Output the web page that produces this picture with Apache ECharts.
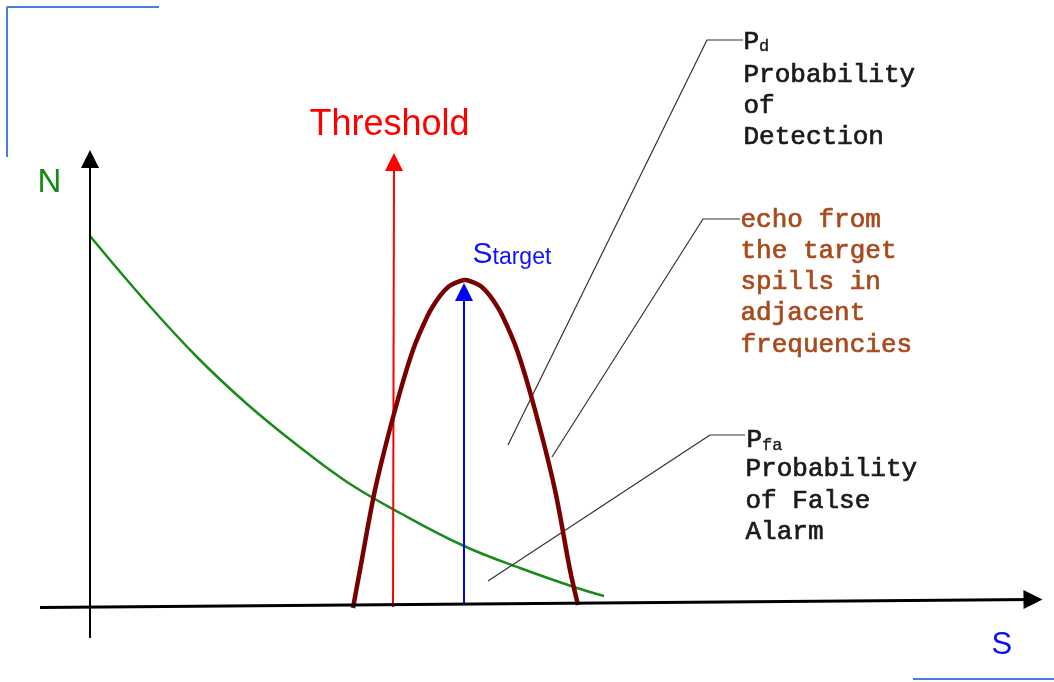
<!DOCTYPE html>
<html>
<head>
<meta charset="utf-8">
<script src="https://cdn.jsdelivr.net/npm/echarts@6.0.0/dist/echarts.min.js"></script>
<style>
    html, body { margin: 0; padding: 0; background: #fff; }
    #main { width: 1054px; height: 682px; }
</style>
</head>
<body>
<div id="main"></div>
<script>
// 坐标系: x = S, y = N, 原点在两条轴的交点
// N 噪声曲线 (绿色)
var noiseCurve = [[0, 371], [57, 304], [107, 250], [157, 203], [207, 162], [257, 125],
    [310, 94], [374, 61], [430, 39], [487, 19], [514, 11]];
// 目标回波扩散到相邻频率 (深红色抛物线)
var echoCurve = [[263, -1], [270, 37], [285, 117], [305, 197], [323, 257], [338, 292],
    [347, 307], [355, 317], [361, 322], [375, 327], [389, 322], [395, 317], [403, 307],
    [412, 292], [427, 257], [445, 197], [465, 117], [480, 37], [488, 2]];
// 箭头 (起点 -> 终点)
var sAxis = [[-50, -0.5], [943, 7.5]];
var nAxis = [[0, -31], [0, 448]];
var thresholdArrow = [[303, 0], [304, 445]];
var targetArrow = [[374, 4], [374, 315]];
// 引线
var pdLeader = [[418, 162], [617, 567], [653, 567]];
var echoLeader = [[462, 150], [613, 388], [650, 388]];
var pfaLeader = [[398, 26], [620, 172], [655, 172]];
// 边框角
var frameTopLeft = [[-83, 450], [-83, 600], [69, 600]];
var frameBottomRight = [[823, -72], [964, -72]];
// 文字
var pdText = ["Probability", "of", "Detection"];
var echoText = ["echo from", "the target", "spills in", "adjacent", "frequencies"];
var pfaText = ["Probability", "of False", "Alarm"];

var MONO = "'Liberation Mono', 'DejaVu Sans Mono', monospace";
var SANS = "'Liberation Sans', Arial, sans-serif";
var INK = "#1a1a1a";
var BROWN = "#a84a1c";

var chart = echarts.init(document.getElementById("main"));

function lineSeries(data, color, width, smooth, z) {
    return {
        type: "line",
        data: data,
        symbol: "none",
        smooth: smooth || false,
        silent: true,
        z: z || 2,
        lineStyle: { color: color, width: width }
    };
}

function arrowSeries(coords, color, width, size, z) {
    return {
        type: "lines",
        coordinateSystem: "cartesian2d",
        silent: true,
        z: z || 3,
        symbol: ["none", "triangle"],
        symbolSize: size,
        lineStyle: { color: color, width: width, opacity: 1, curveness: 0 },
        itemStyle: { color: color },
        data: [{ coords: coords }]
    };
}

function textSeries(x, y, text, label) {
    return {
        type: "scatter",
        data: [[x, y]],
        symbolSize: 1,
        itemStyle: { color: "rgba(0,0,0,0)", opacity: 1 },
        silent: true,
        z: 10,
        label: Object.assign({
            show: true,
            opacity: 1,
            position: [0, 0],
            align: "left",
            verticalAlign: "top",
            formatter: text
        }, label)
    };
}

// 等宽文字, 稍微加粗
function mono(color, size, lineHeight) {
    return {
        color: color, fontSize: size, lineHeight: lineHeight, fontFamily: MONO,
        textBorderColor: color, textBorderWidth: 0.7
    };
}

function subLabel(color) {
    return {
        rich: {
            a: Object.assign(mono(color, 26, 31), { verticalAlign: "bottom" }),
            b: Object.assign(mono(color, 17, 13), { verticalAlign: "bottom", textBorderWidth: 0.4 })
        }
    };
}

var option = {
    animation: false,
    backgroundColor: "#fff",
    grid: { left: 0, right: 0, top: 0, bottom: 0 },
    xAxis: { type: "value", min: -90, max: 964, show: false },
    yAxis: { type: "value", min: -75, max: 607, show: false },
    series: [
        lineSeries(frameTopLeft, "#4a7fd6", 2),
        lineSeries(frameBottomRight, "#4a7fd6", 2),
        lineSeries(noiseCurve, "#1a8a1a", 2.5, 0.4),
        arrowSeries(thresholdArrow, "#ff0000", 2, 18),
        arrowSeries(targetArrow, "#0000ff", 2, 18),
        lineSeries(echoCurve, "#7a0000", 4.5, 0.3, 4),
        arrowSeries(nAxis, "#000", 2, 18, 5),
        arrowSeries(sAxis, "#000", 3, 19, 5),
        lineSeries(pdLeader, "#333", 1.2),
        lineSeries(echoLeader, "#333", 1.2),
        lineSeries(pfaLeader, "#333", 1.2),

        textSeries(220, 481, "Threshold", {
            verticalAlign: "middle", color: "#ff0000", fontSize: 36, fontFamily: SANS
        }),
        textSeries(-52, 424, "N", {
            verticalAlign: "middle", color: "#158a15", fontSize: 33, fontFamily: SANS
        }),
        textSeries(902, -39, "S", {
            verticalAlign: "middle", color: "#0a0aff", fontSize: 31, fontFamily: SANS
        }),
        textSeries(383, 367, "{a|S}{b|target}", {
            rich: {
                a: { color: "#1010ff", fontSize: 30, lineHeight: 30, fontFamily: SANS, verticalAlign: "bottom" },
                b: { color: "#1010ff", fontSize: 23, lineHeight: 13, fontFamily: SANS, verticalAlign: "bottom" }
            }
        }),
        textSeries(654, 582.5, "{a|P}{b|d}", subLabel(INK)),
        textSeries(654, 546.5, pdText.join("\n"), mono(INK, 26, 31)),
        textSeries(651, 402.5, echoText.join("\n"), mono(BROWN, 26, 31.3)),
        textSeries(657, 184, "{a|P}{b|fa}", subLabel(INK)),
        textSeries(656, 153, pfaText.join("\n"), mono(INK, 26, 31.5))
    ]
};

chart.setOption(option);
window.addEventListener("resize", function () {
    chart.resize();
});
</script>
</body>
</html>
